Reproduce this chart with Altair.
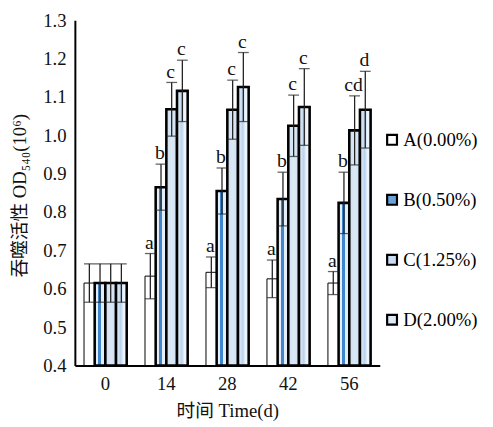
import altair as alt
import pandas as pd

days = ["0", "14", "28", "42", "56"]
series = ["A(0.00%)", "B(0.50%)", "C(1.25%)", "D(2.00%)"]
means = {
    "A(0.00%)": [0.615, 0.633, 0.643, 0.626, 0.615],
    "B(0.50%)": [0.615, 0.865, 0.855, 0.834, 0.824],
    "C(1.25%)": [0.615, 1.068, 1.067, 1.025, 1.013],
    "D(2.00%)": [0.615, 1.116, 1.126, 1.074, 1.067],
}
sds = {
    "A(0.00%)": [0.05, 0.059, 0.04, 0.049, 0.03],
    "B(0.50%)": [0.05, 0.06, 0.06, 0.07, 0.08],
    "C(1.25%)": [0.05, 0.07, 0.077, 0.08, 0.09],
    "D(2.00%)": [0.05, 0.08, 0.09, 0.10, 0.10],
}
letters = {
    "A(0.00%)": ["", "a", "a", "a", "a"],
    "B(0.50%)": ["", "b", "b", "b", "b"],
    "C(1.25%)": ["", "c", "c", "c", "cd"],
    "D(2.00%)": ["", "c", "c", "c", "d"],
}
yticks = [0.4, 0.5, 0.6, 0.7, 0.8, 0.9, 1.0, 1.1, 1.2, 1.3]

rows = []
for s in series:
    for i, d in enumerate(days):
        m = means[s][i]
        sd = sds[s][i]
        rows.append({"day": d, "series": s, "mean": m, "lo": m - sd, "hi": m + sd,
                     "label": letters[s][i]})
df = pd.DataFrame(rows)

SERIF = "Liberation Serif"
TITLEFONT = "Liberation Serif, Noto Sans CJK SC"

xaxis = alt.Axis(title="时间 Time(d)", labelAngle=0, ticks=False,
                 labelPadding=9, labelFontSize=19, titleFontSize=19,
                 labelFont=SERIF, titleFont=TITLEFONT,
                 titlePadding=9, titleFontWeight="normal")
xenc = alt.X("day:N", sort=days,
             scale=alt.Scale(paddingInner=0.3, paddingOuter=0.15), axis=xaxis)
xoff = alt.XOffset("series:N", sort=series, scale=alt.Scale(domain=series, paddingInner=0, paddingOuter=0))
yscale = alt.Scale(domain=[0.4, 1.3], nice=False, zero=False)
yaxis = alt.Axis(title="吞噬活性 OD₅₄₀(10⁶)", values=yticks, labelOverlap=False,
                 format=".1f", ticks=False, grid=False, labelPadding=9,
                 labelFont=SERIF, titleFont=TITLEFONT,
                 labelFontSize=19, titleFontSize=19, titleFontWeight="normal",
                 titleX=-56, titleY=178, titleAngle=270,
                 titleAlign="center", titleBaseline="middle")


def Y(field):
    return alt.Y(field, type="quantitative", scale=yscale, axis=yaxis)


base = alt.Chart(df)

fills = {
    "A(0.00%)": "white",
    "B(0.50%)": alt.Gradient(gradient="linear", x1=0, x2=1, y1=0, y2=0, stops=[
        alt.GradientStop(offset=0, color="#e4eef8"),
        alt.GradientStop(offset=0.32, color="#e4eef8"),
        alt.GradientStop(offset=0.32, color="#3f86cc"),
        alt.GradientStop(offset=0.62, color="#3f86cc"),
        alt.GradientStop(offset=0.62, color="#e4eef8"),
        alt.GradientStop(offset=1, color="#e4eef8"),
    ]),
    "C(1.25%)": alt.Gradient(gradient="linear", x1=0, x2=1, y1=0, y2=0, stops=[
        alt.GradientStop(offset=0, color="#cfe0f2"),
        alt.GradientStop(offset=0.5, color="#dbe8f5"),
        alt.GradientStop(offset=1, color="#cfe0f2"),
    ]),
    "D(2.00%)": alt.Gradient(gradient="linear", x1=0, x2=1, y1=0, y2=0, stops=[
        alt.GradientStop(offset=0, color="#eef4fb"),
        alt.GradientStop(offset=0.45, color="#b9d3ee"),
        alt.GradientStop(offset=0.7, color="#eef4fb"),
        alt.GradientStop(offset=1, color="#eef4fb"),
    ]),
}
strokes = {"A(0.00%)": 1, "B(0.50%)": 2.6, "C(1.25%)": 2.6, "D(2.00%)": 2.6}

layers = []
for s in series:
    layers.append(
        base.transform_filter(alt.datum.series == s).mark_bar(
            fill=fills[s], stroke="black", strokeWidth=strokes[s]
        ).encode(x=xenc, xOffset=xoff, y=Y("mean"), y2=alt.datum(0.4))
    )

err = base.mark_rule(color="#222222", strokeWidth=1.3).encode(
    x=xenc, xOffset=xoff, y=Y("lo"), y2="hi:Q")
caps_hi = base.mark_tick(color="#222222", thickness=1.3, size=11).encode(
    x=xenc, xOffset=xoff, y=Y("hi"))
caps_lo = base.mark_tick(color="#222222", thickness=1.3, size=11).encode(
    x=xenc, xOffset=xoff, y=Y("lo"))
txt = base.mark_text(font=SERIF, fontSize=20, baseline="alphabetic", dy=-5, dx=-1,
                     color="#111111").encode(
    x=xenc, xOffset=xoff, y=Y("hi"), text="label:N")

legend_fill = alt.Scale(domain=series, range=["white", "#6aa3d8", "#c9dcf1", "#dde9f6"])
leg = base.mark_square(opacity=0, stroke="black", strokeWidth=2).encode(
    x=xenc, xOffset=xoff, y=Y("mean"),
    fill=alt.Fill("series:N", scale=legend_fill, sort=series,
                  legend=alt.Legend(title=None, orient="none", legendX=313, legendY=112,
                                    symbolType="square", symbolSize=100,
                                    symbolStrokeColor="black", symbolStrokeWidth=2.2,
                                    symbolOpacity=1, labelFont=SERIF, labelFontSize=19,
                                    rowPadding=41, padding=0, labelOffset=2,
                                    labelLimit=200)))

chart = alt.layer(*layers, err, caps_hi, caps_lo, txt, leg).properties(
    width=310, height=351,
    autosize=alt.AutoSizeParams(type="none"),
    padding={"left": 68, "top": 9, "right": 107, "bottom": 59},
).configure(font=SERIF).configure_view(stroke=None).configure_axis(
    domainColor="black", domainWidth=2, labelColor="#111111", titleColor="#111111",
    labelOverlap=False)

chart.save("out.html", embed_options={"renderer": "svg", "actions": False})
